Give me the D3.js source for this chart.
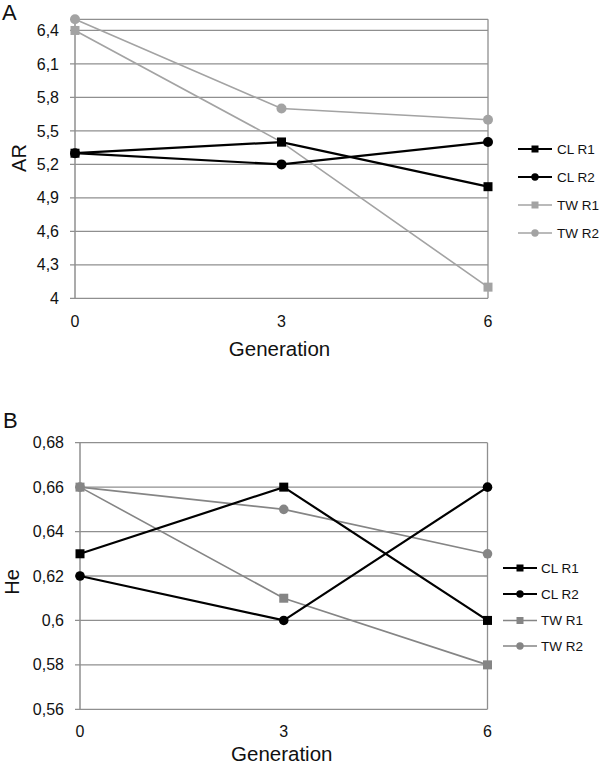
<!DOCTYPE html>
<html>
<head>
<meta charset="utf-8">
<script src="https://cdn.jsdelivr.net/npm/d3@7"></script>
<style>
  html, body { margin: 0; padding: 0; background: #fff; }
  svg { display: block; font-family: "Liberation Sans", Arial, Helvetica, sans-serif; }
</style>
</head>
<body>
<svg id="chart" width="600" height="766"></svg>
<script>
// ---- Data ----
const generations = [0, 3, 6];
const seriesNames = ["CL R1", "CL R2", "TW R1", "TW R2"];
const seriesShapes = ["square", "circle", "square", "circle"];

// Panel A: allelic richness (AR)
const arCLR1 = [5.3, 5.4, 5.0];
const arCLR2 = [5.3, 5.2, 5.4];
const arTWR1 = [6.4, 5.4, 4.1];
const arTWR2 = [6.5, 5.7, 5.6];
const arTicks = [4, 4.3, 4.6, 4.9, 5.2, 5.5, 5.8, 6.1, 6.4];
const arTickLabels = ["4", "4,3", "4,6", "4,9", "5,2", "5,5", "5,8", "6,1", "6,4"];
const arDomain = [4, 6.5];

// Panel B: expected heterozygosity (He)
const heCLR1 = [0.63, 0.66, 0.60];
const heCLR2 = [0.62, 0.60, 0.66];
const heTWR1 = [0.66, 0.61, 0.58];
const heTWR2 = [0.66, 0.65, 0.63];
const heTicks = [0.56, 0.58, 0.60, 0.62, 0.64, 0.66, 0.68];
const heTickLabels = ["0,56", "0,58", "0,6", "0,62", "0,64", "0,66", "0,68"];
const heDomain = [0.56, 0.68];

const xTickLabels = ["0", "3", "6"];

// ---- Drawing ----
const svg = d3.select("#chart");
const gridColor = "#8f8f8f";

function drawPanel(cfg) {
  const g = svg.append("g");
  const x = d3.scaleLinear().domain([0, 6]).range([cfg.left, cfg.right]);
  const y = d3.scaleLinear().domain(cfg.domain).range([cfg.bottom, cfg.top]);

  // gridlines (incl. top border at domain max)
  const gridVals = cfg.ticks.concat(cfg.domain[1] !== cfg.ticks[cfg.ticks.length - 1] ? [cfg.domain[1]] : []);
  g.selectAll("line.grid").data(gridVals).enter().append("line")
    .attr("x1", cfg.left - 5).attr("x2", cfg.right)
    .attr("y1", d => y(d)).attr("y2", d => y(d))
    .attr("stroke", gridColor).attr("stroke-width", 1.3);
  // left axis and right border
  g.append("line").attr("x1", cfg.left).attr("x2", cfg.left)
    .attr("y1", y(cfg.domain[1])).attr("y2", cfg.bottom)
    .attr("stroke", gridColor).attr("stroke-width", 1.5);
  g.append("line").attr("x1", cfg.right).attr("x2", cfg.right)
    .attr("y1", y(cfg.domain[1])).attr("y2", cfg.bottom)
    .attr("stroke", gridColor).attr("stroke-width", 1.3);

  // y tick labels
  g.selectAll("text.ytick").data(cfg.ticks).enter().append("text")
    .attr("x", cfg.yLabelX).attr("y", d => y(d))
    .attr("dy", "0.35em").attr("text-anchor", "end")
    .attr("font-size", 16).attr("fill", "#111")
    .text((d, i) => cfg.tickLabels[i]);

  // x tick labels
  g.selectAll("text.xtick").data(generations).enter().append("text")
    .attr("x", d => x(d)).attr("y", cfg.xTickY)
    .attr("text-anchor", "middle").attr("font-size", 16).attr("fill", "#111")
    .text((d, i) => xTickLabels[i]);

  // axis titles
  g.append("text").attr("x", (cfg.left + cfg.right) / 2 - 2).attr("y", cfg.xTitleY)
    .attr("text-anchor", "middle").attr("font-size", 20.5).attr("fill", "#111")
    .text("Generation");
  g.append("text")
    .attr("transform", `translate(${cfg.yTitleX},${cfg.yTitleY}) rotate(-90)`)
    .attr("text-anchor", "middle").attr("dy", "0.35em")
    .attr("font-size", 20).attr("fill", "#111").text(cfg.yTitle);

  // panel letter
  g.append("text").attr("x", cfg.letterX).attr("y", cfg.letterY)
    .attr("font-size", 22).attr("fill", "#111").text(cfg.letter);

  const line = d3.line().x((d, i) => x(generations[i])).y(d => y(d));

  // series lines: draw grey first, black on top
  const order = [3, 2, 1, 0];
  order.forEach(si => {
    const vals = cfg.series[si];
    const col = cfg.colors[si];
    g.append("path").datum(vals).attr("d", line)
      .attr("fill", "none").attr("stroke", col)
      .attr("stroke-width", si < 2 ? 2.2 : 1.6);
    vals.forEach((v, i) => {
      const cx = x(generations[i]), cy = y(v);
      if (seriesShapes[si] === "square") {
        g.append("rect").attr("x", cx - cfg.sq / 2).attr("y", cy - cfg.sq / 2)
          .attr("width", cfg.sq).attr("height", cfg.sq).attr("fill", col);
      } else {
        g.append("circle").attr("cx", cx).attr("cy", cy).attr("r", cfg.cr).attr("fill", col);
      }
    });
  });

  // legend
  seriesNames.forEach((name, si) => {
    const ly = cfg.legendY[si];
    const col = cfg.colors[si];
    g.append("line").attr("x1", cfg.legendX1).attr("x2", cfg.legendX2)
      .attr("y1", ly).attr("y2", ly).attr("stroke", col)
      .attr("stroke-width", si < 2 ? 2.2 : 1.6);
    const mx = (cfg.legendX1 + cfg.legendX2) / 2;
    if (seriesShapes[si] === "square") {
      g.append("rect").attr("x", mx - 3.5).attr("y", ly - 3.5)
        .attr("width", 7).attr("height", 7).attr("fill", col);
    } else {
      g.append("circle").attr("cx", mx).attr("cy", ly).attr("r", 3.7).attr("fill", col);
    }
    g.append("text").attr("x", cfg.legendTextX).attr("y", ly).attr("dy", "0.35em")
      .attr("font-size", 13.5).attr("fill", "#111").text(name);
  });
}

drawPanel({
  letter: "A", letterX: 2, letterY: 20,
  left: 75, right: 488, top: 19.3, bottom: 298.3,
  domain: arDomain, ticks: arTicks, tickLabels: arTickLabels,
  yLabelX: 59, xTickY: 327, xTitleY: 356,
  yTitle: "AR", yTitleX: 19, yTitleY: 158,
  series: [arCLR1, arCLR2, arTWR1, arTWR2],
  colors: ["#000", "#000", "#a3a3a3", "#a3a3a3"],
  sq: 9, cr: 5,
  legendY: [149, 177, 205, 233],
  legendX1: 518, legendX2: 552, legendTextX: 557
});

drawPanel({
  letter: "B", letterX: 3, letterY: 428,
  left: 80, right: 487.5, top: 442.7, bottom: 709.3,
  domain: heDomain, ticks: heTicks, tickLabels: heTickLabels,
  yLabelX: 64, xTickY: 737, xTitleY: 761,
  yTitle: "He", yTitleX: 12, yTitleY: 582,
  series: [heCLR1, heCLR2, heTWR1, heTWR2],
  colors: ["#000", "#000", "#858585", "#858585"],
  sq: 9, cr: 4.8,
  legendY: [568, 594, 620.5, 646],
  legendX1: 503, legendX2: 537, legendTextX: 541
});
</script>
</body>
</html>
